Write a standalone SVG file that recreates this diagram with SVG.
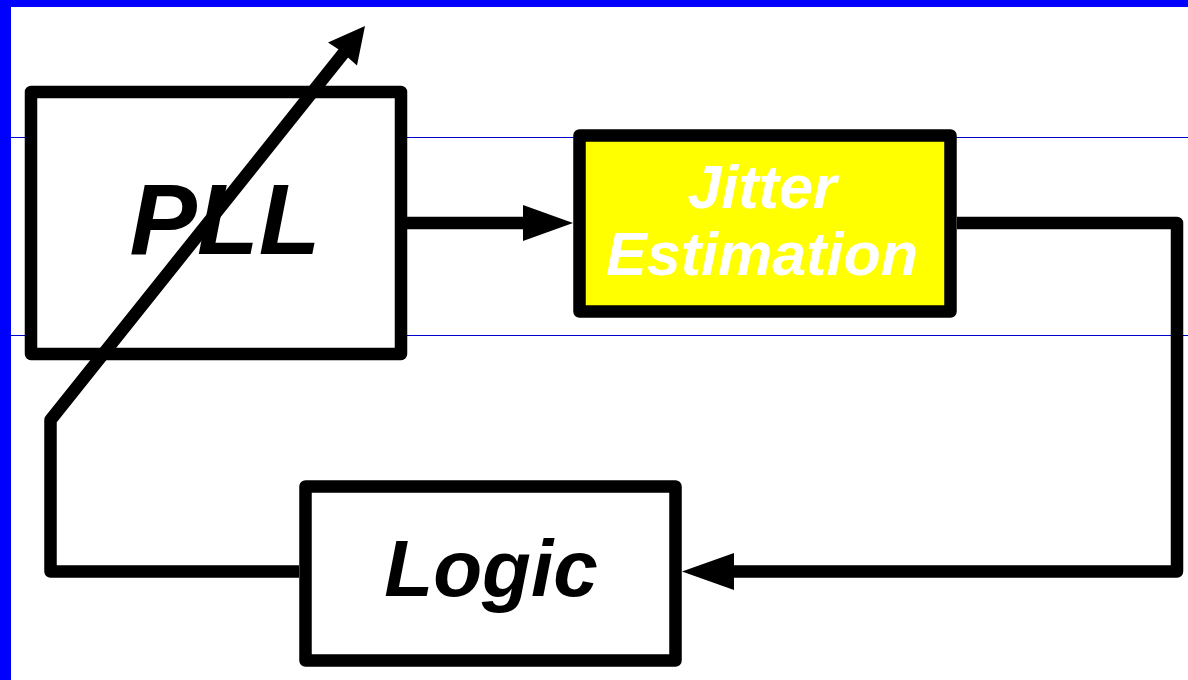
<svg xmlns="http://www.w3.org/2000/svg" width="1188" height="680" viewBox="0 0 1188 680">
<style>
.box{stroke:#000;stroke-width:12.5;stroke-linejoin:round;fill:#fff}
.wire{stroke:#000;stroke-width:12.5;fill:none;stroke-linejoin:round}
.guide{stroke:#0000cc;stroke-width:1;fill:none}
.lbl{font-family:"Liberation Sans",Arial,sans-serif;font-weight:bold;font-style:italic;text-anchor:middle}
.head{fill:#000}
</style>
<rect x="0" y="0" width="1188" height="680" fill="#fff"/>
<g id="frame">
<rect x="0" y="0" width="1188" height="7" fill="#0000ff"/>
<rect x="0" y="0" width="11" height="680" fill="#0000ff"/>
<line class="guide" x1="11" y1="137.5" x2="1188" y2="137.5"/>
<line class="guide" x1="11" y1="335.5" x2="1188" y2="335.5"/>
</g>
<g id="pll">
<rect class="box" x="31" y="92" width="370" height="262"/>
<text class="lbl" x="225" y="254" font-size="101" fill="#000">PLL</text>
</g>
<g id="jitter">
<rect class="box" x="579.5" y="135.5" width="371" height="176" style="fill:#ffff00"/>
<text class="lbl" x="762" y="208" font-size="61" fill="#fff">Jitter</text>
<text class="lbl" x="762" y="275" font-size="61" fill="#fff">Estimation</text>
</g>
<g id="logic">
<rect class="box" x="305.5" y="486.5" width="370" height="174"/>
<text class="lbl" x="491" y="596" font-size="80" fill="#000">Logic</text>
</g>
<g id="connectors">
<line class="wire" x1="407" y1="223" x2="528" y2="223"/>
<polygon class="head" points="523,205 573,223 523,241"/>
<polyline class="wire" points="957,223 1177,223 1177,571.5 728,571.5"/>
<polygon class="head" points="734,553 682,571.5 734,590"/>
<polyline class="wire" points="299,571.5 50.5,571.5 50.5,420 350,45"/>
<polygon class="head" points="365,26 328,42.5 339.5,50 357,65.5"/>
</g>
</svg>
